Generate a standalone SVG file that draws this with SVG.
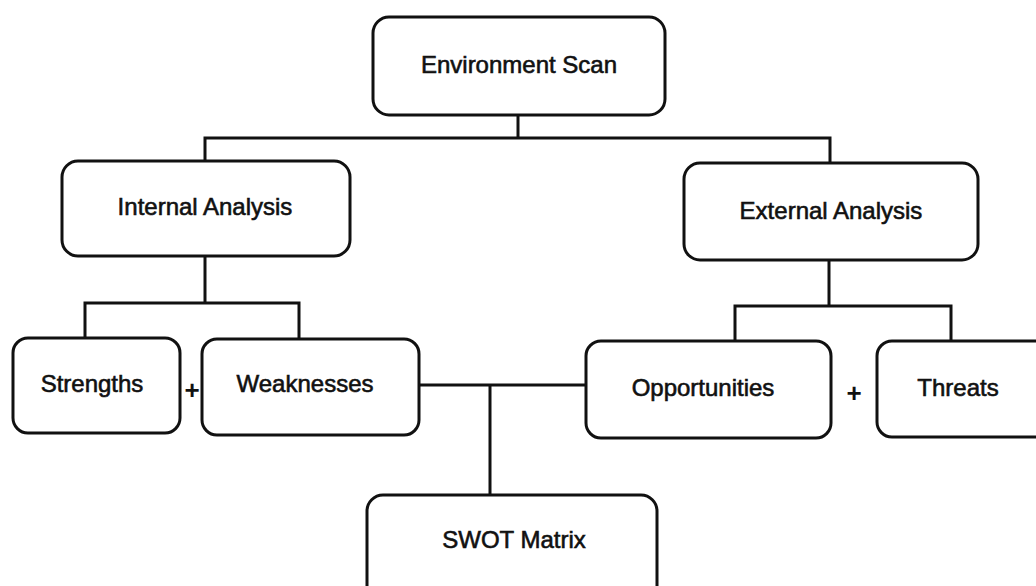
<svg xmlns="http://www.w3.org/2000/svg" width="1036" height="586" viewBox="0 0 1036 586">
<style>
.box{fill:#fff;stroke:#111;stroke-width:3}
.lbl{font-family:"Liberation Sans",Arial,sans-serif;font-size:24px;fill:#111;stroke:#111;stroke-width:0.6;text-anchor:middle}
.plus{font-family:"Liberation Sans",Arial,sans-serif;font-size:26px;font-weight:bold;fill:#111;text-anchor:middle}
.conn{fill:none;stroke:#111;stroke-width:3;stroke-linejoin:miter}
</style>
<rect width="1036" height="586" fill="#fff"/>
<g id="connectors" class="conn">
<path d="M518 115 V138"/>
<path d="M205 162 V138 H830 V164"/>
<path d="M205 256 V303"/>
<path d="M85 338 V303 H299 V339"/>
<path d="M829 260 V306"/>
<path d="M735 341 V306 H951 V341"/>
<path d="M419 385 H586"/>
<path d="M490 385 V495"/>
</g>
<g id="env">
<rect class="box" x="373" y="17" width="292" height="98" rx="16"/>
<text class="lbl" x="519" y="73">Environment Scan</text>
</g>
<g id="internal">
<rect class="box" x="62" y="161" width="288" height="95" rx="16"/>
<text class="lbl" x="205" y="215">Internal Analysis</text>
</g>
<g id="external">
<rect class="box" x="684" y="163" width="294" height="97" rx="16"/>
<text class="lbl" x="831" y="219">External Analysis</text>
</g>
<g id="strengths">
<rect class="box" x="13" y="338" width="167" height="95" rx="15"/>
<text class="lbl" x="92" y="392">Strengths</text>
</g>
<g id="plus1">
<text class="plus" x="192" y="399">+</text>
</g>
<g id="weaknesses">
<rect class="box" x="202" y="339" width="217" height="96" rx="15"/>
<text class="lbl" x="305" y="392">Weaknesses</text>
</g>
<g id="opportunities">
<rect class="box" x="586" y="341" width="245" height="97" rx="15"/>
<text class="lbl" x="703" y="396">Opportunities</text>
</g>
<g id="plus2">
<text class="plus" x="854" y="402">+</text>
</g>
<g id="threats">
<rect class="box" x="877" y="341" width="175" height="96" rx="15"/>
<text class="lbl" x="958" y="396">Threats</text>
</g>
<g id="swot">
<rect class="box" x="367" y="495" width="290" height="110" rx="16"/>
<text class="lbl" x="514" y="548">SWOT Matrix</text>
</g>
</svg>
